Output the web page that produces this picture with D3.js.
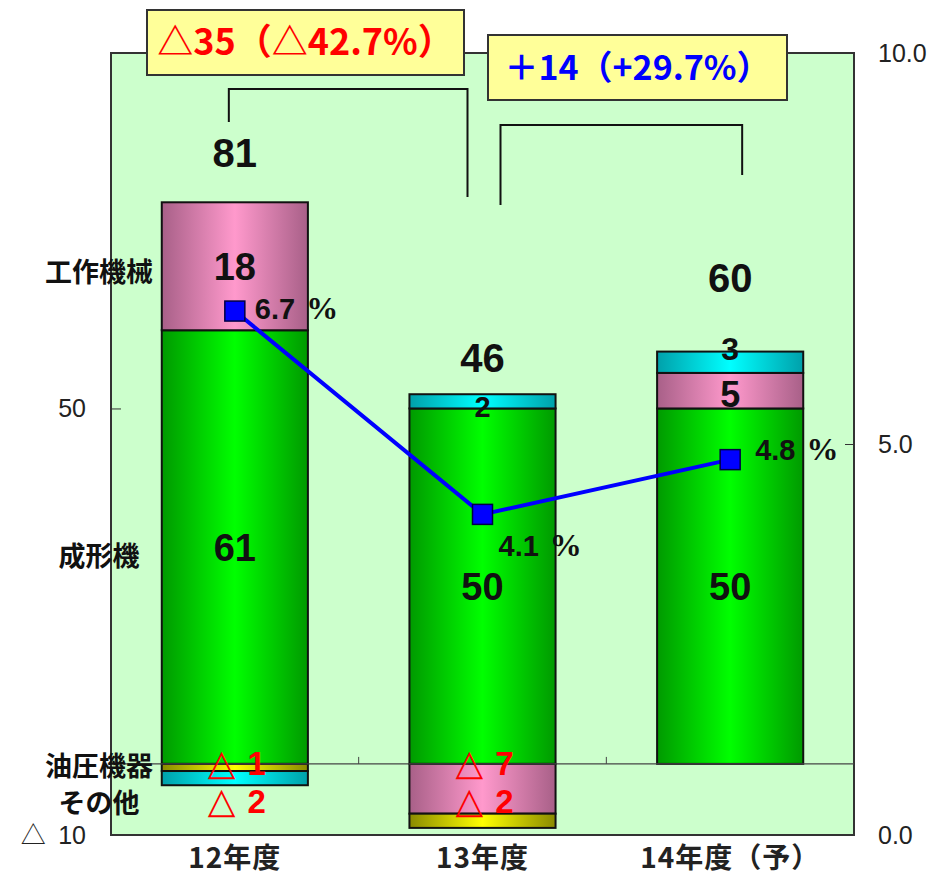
<html>
  <head>
    <meta charset="utf-8">
    <script src="https://d3js.org/d3.v7.min.js"></script>
    <style>
      body { margin: 0; background: #fff; }
      text { font-family: "Liberation Sans", Arial, "Noto Sans CJK JP", sans-serif; }
      .jp { font-family: "Noto Sans CJK JP", "Liberation Sans", sans-serif; }
    </style>
  </head>
  <body>
    <svg class="chart"></svg>
  </body>
  <script>
  // data
  const categories = ['12年度', '13年度', '14年度（予）'];
  const seriesNames = ['成形機', '工作機械', '油圧機器', 'その他'];
  const moldingValues = [61, 50, 50];
  const machineToolValues = [18, -7, 5];
  const hydraulicValues = [-1, -2, 0];
  const otherValues = [-2, 2, 3];
  const totals = [81, 46, 60];
  const ratioValues = [6.7, 4.1, 4.8];
  const leftTicks = [-10, 50];
  const rightTicks = [0, 5, 10];
  const changeLabels = ['△35（△42.7%）', '＋14（+29.7%）'];

  function drawChart(){
    let width = 931, height = 882;
    let margin = {top:53, bottom:47, left:111, right:77};

    let svg = d3.select('.chart')
      .attr('width', width)
      .attr('height', height)
      .attr('viewBox', [0, 0, width, height]);

    let x = d3.scaleBand()
      .domain(categories)
      .range([margin.left, width - margin.right])
      .paddingInner(0.41)
      .paddingOuter(0.205);
    let yL = d3.scaleLinear().domain([-10, 100]).range([height - margin.bottom, margin.top]);
    let yR = d3.scaleLinear().domain([0, 10]).range([height - margin.bottom, margin.top]);
    let cx = i => x(categories[i]) + x.bandwidth() / 2;

    let colors = {
      '成形機':  ['#009a00', '#00ff00'],
      '工作機械': ['#a86088', '#ff99cc'],
      '油圧機器': ['#8a8a00', '#ffff00'],
      'その他':  ['#00a0aa', '#00ffff']
    };

    let defs = svg.append('defs');
    seriesNames.forEach((s, i) => {
      let g = defs.append('linearGradient').attr('id', 'grad' + i)
        .attr('x1', 0).attr('x2', 1).attr('y1', 0).attr('y2', 0);
      g.append('stop').attr('offset', '0%').attr('stop-color', colors[s][0]);
      g.append('stop').attr('offset', '50%').attr('stop-color', colors[s][1]);
      g.append('stop').attr('offset', '100%').attr('stop-color', colors[s][0]);
    });

    // plot area
    svg.append('rect')
      .attr('x', margin.left).attr('y', margin.top)
      .attr('width', width - margin.left - margin.right)
      .attr('height', height - margin.top - margin.bottom)
      .attr('fill', '#ccffcc')
      .attr('stroke', '#333').attr('stroke-width', 2);

    // stacked bars
    let table = categories.map((c, i) => ({
      cat: c,
      '成形機': moldingValues[i],
      '工作機械': machineToolValues[i],
      '油圧機器': hydraulicValues[i],
      'その他': otherValues[i]
    }));
    let stacked = d3.stack().keys(seriesNames).offset(d3.stackOffsetDiverging)(table);

    let layers = svg.append('g').selectAll('g')
      .data(stacked)
      .join('g')
        .attr('fill', (d, i) => `url(#grad${i})`);

    layers.selectAll('rect')
      .data(d => d.filter(p => p[1] !== p[0]))
      .join('rect')
        .attr('x', d => x(d.data.cat))
        .attr('width', x.bandwidth())
        .attr('y', d => yL(Math.max(d[0], d[1])))
        .attr('height', d => Math.abs(yL(d[0]) - yL(d[1])))
        .attr('stroke', '#111')
        .attr('stroke-width', 2);

    // zero line with category ticks
    svg.append('line')
      .attr('x1', margin.left).attr('x2', width - margin.right)
      .attr('y1', yL(0)).attr('y2', yL(0))
      .attr('stroke', '#444').attr('stroke-width', 1.2);
    svg.selectAll('.ctick')
      .data(categories.slice(1))
      .join('line')
        .attr('x1', d => x(d) - x.step() * x.paddingInner() / 2)
        .attr('x2', d => x(d) - x.step() * x.paddingInner() / 2)
        .attr('y1', yL(0)).attr('y2', yL(0) - 7)
        .attr('stroke', '#444');

    // left axis
    let leftAxis = d3.axisLeft(yL).tickValues(leftTicks).tickSize(-10).tickPadding(25)
      .tickFormat(d => d < 0 ? '△\u2002' + Math.abs(d) : d);
    svg.append('g')
      .attr('transform', `translate(${margin.left},0)`)
      .call(leftAxis)
      .call(g => g.select('.domain').remove())
      .call(g => g.selectAll('line').attr('stroke', d => d === 50 ? '#333' : 'none'))
      .call(g => g.selectAll('text').attr('fill', '#222').attr('font-size', 25)
        .attr('font-family', '"Liberation Sans", "Noto Sans CJK JP", sans-serif'));

    // right axis
    let rightAxis = d3.axisRight(yR).tickValues(rightTicks).tickSize(-9).tickPadding(24)
      .tickFormat(d3.format('.1f'));
    svg.append('g')
      .attr('transform', `translate(${width - margin.right},0)`)
      .call(rightAxis)
      .call(g => g.select('.domain').remove())
      .call(g => g.selectAll('line').attr('stroke', d => d === 5 ? '#333' : 'none'))
      .call(g => g.selectAll('text').attr('fill', '#222').attr('font-size', 25));

    // x labels
    svg.selectAll('.xlab')
      .data(categories)
      .join('text')
        .attr('class', 'jp')
        .attr('x', d => x(d) + x.bandwidth() / 2)
        .attr('y', height - 14)
        .attr('text-anchor', 'middle')
        .attr('font-size', 28)
        .attr('font-weight', 'bold')
        .attr('letter-spacing', 1)
        .attr('fill', '#222')
        .text(d => d);

    // segment labels
    let posSegs = [], negSegs = [];
    stacked.forEach(layer => layer.forEach((p, i) => {
      let v = p.data[layer.key];
      if (v > 0) posSegs.push({i: i, v: v, mid: (p[0] + p[1]) / 2, h: yL(p[0]) - yL(p[1])});
      if (v < 0) negSegs.push({i: i, v: v, row: negSegs.filter(n => n.i === i).length});
    }));

    let smallShift = [0, 5, -14];
    svg.selectAll('.plab')
      .data(posSegs)
      .join('text')
        .attr('x', d => cx(d.i))
        .attr('y', d => yL(d.mid) + (d.h < 25 ? smallShift[d.i] : (d.h < 40 ? 3 : 0)))
        .attr('dy', '0.36em')
        .attr('text-anchor', 'middle')
        .attr('font-size', d => d.h < 25 ? (d.i === 2 ? 32 : 29) : (d.h < 40 ? 36 : 38))
        .attr('font-weight', 'bold')
        .attr('fill', '#111')
        .text(d => d.v);

    let neg = svg.selectAll('.nlab')
      .data(negSegs)
      .join('text')
        .attr('x', d => cx(d.i) + 2)
        .attr('y', d => yL(0) + 5 + d.row * 38)
        .attr('dy', '0.36em')
        .attr('text-anchor', 'middle')
        .attr('font-weight', 'bold')
        .attr('fill', '#ff0000');
    neg.append('tspan')
      .attr('font-family', '"DejaVu Sans", sans-serif')
      .attr('font-size', 36)
      .text('△');
    neg.append('tspan')
      .attr('font-size', 33)
      .attr('dx', 12)
      .text(d => Math.abs(d.v));

    // totals
    let totalLift = [50, 37, 74];
    svg.selectAll('.tot')
      .data(totals)
      .join('text')
        .attr('x', (d, i) => cx(i))
        .attr('y', (d, i) => yL(d3.sum(stacked, s => Math.max(0, s[i].data[s.key]))) - totalLift[i])
        .attr('dy', '0.36em')
        .attr('text-anchor', 'middle')
        .attr('font-size', 40)
        .attr('font-weight', 'bold')
        .attr('fill', '#111')
        .text(d => d);

    // series names on the left
    let nameRows = [
      yL(moldingValues[0] + machineToolValues[0] / 2) + 6,
      yL(moldingValues[0] / 2) + 9,
      yL(0) + 2,
      yL(0) + 39
    ];
    svg.selectAll('.sname')
      .data(['工作機械', '成形機', '油圧機器', 'その他'])
      .join('text')
        .attr('class', 'jp')
        .attr('x', 99)
        .attr('y', (d, i) => nameRows[i])
        .attr('dy', '0.36em')
        .attr('text-anchor', 'middle')
        .attr('font-size', 27)
        .attr('font-weight', 'bold')
        .attr('fill', '#111')
        .text(d => d);

    // ratio line
    svg.append('path')
      .datum(ratioValues)
      .attr('fill', 'none')
      .attr('stroke', '#0000ff')
      .attr('stroke-width', 4)
      .attr('d', d3.line().x((d, i) => cx(i)).y(d => yR(d)));
    svg.selectAll('.mark')
      .data(ratioValues)
      .join('rect')
        .attr('x', (d, i) => cx(i) - 10)
        .attr('y', d => yR(d) - 10)
        .attr('width', 20).attr('height', 20)
        .attr('fill', '#0000ff')
        .attr('stroke', '#000044').attr('stroke-width', 1.5);

    let pctOffsets = [[20, -3], [16, 31], [25, -10]];
    let pct = svg.selectAll('.pct')
      .data(ratioValues)
      .join('text')
        .attr('x', (d, i) => cx(i) + pctOffsets[i][0])
        .attr('y', (d, i) => yR(d) + pctOffsets[i][1])
        .attr('dy', '0.36em')
        .attr('font-size', 29)
        .attr('font-weight', 'bold')
        .attr('fill', '#111');
    pct.append('tspan').text(d => d3.format('.1f')(d));
    pct.append('tspan')
      .attr('dx', 11)
      .attr('font-family', '"Liberation Serif", serif')
      .attr('font-size', 32)
      .text('%');

    // change brackets
    let brackets = [
      {x1: cx(0) - 6, x2: cx(1) - 15, top: 89, b1: 122, b2: 197},
      {x1: cx(1) + 18, x2: cx(2) + 12, top: 125, b1: 205, b2: 175}
    ];
    svg.selectAll('.brk')
      .data(brackets)
      .join('path')
        .attr('fill', 'none')
        .attr('stroke', '#111')
        .attr('stroke-width', 2)
        .attr('d', d => `M${d.x1},${d.b1}V${d.top}H${d.x2}V${d.b2}`);

    // callout boxes
    let boxes = [
      {x: 147, y: 10, w: 317, h: 65, color: '#ff0000', size: 36},
      {x: 488, y: 35, w: 299, h: 65, color: '#0000ff', size: 34}
    ];
    let box = svg.selectAll('.box')
      .data(boxes)
      .join('g');
    box.append('rect')
      .attr('x', d => d.x).attr('y', d => d.y)
      .attr('width', d => d.w).attr('height', d => d.h)
      .attr('fill', '#ffff99')
      .attr('stroke', '#333').attr('stroke-width', 2);
    box.append('text')
      .attr('class', 'jp')
      .attr('x', d => d.x + d.w / 2)
      .attr('y', d => d.y + d.h / 2)
      .attr('dy', '0.36em')
      .attr('text-anchor', 'middle')
      .attr('font-size', d => d.size)
      .attr('font-weight', 'bold')
      .attr('fill', d => d.color)
      .text((d, i) => changeLabels[i]);
  }

  drawChart();
  </script>
</html>
